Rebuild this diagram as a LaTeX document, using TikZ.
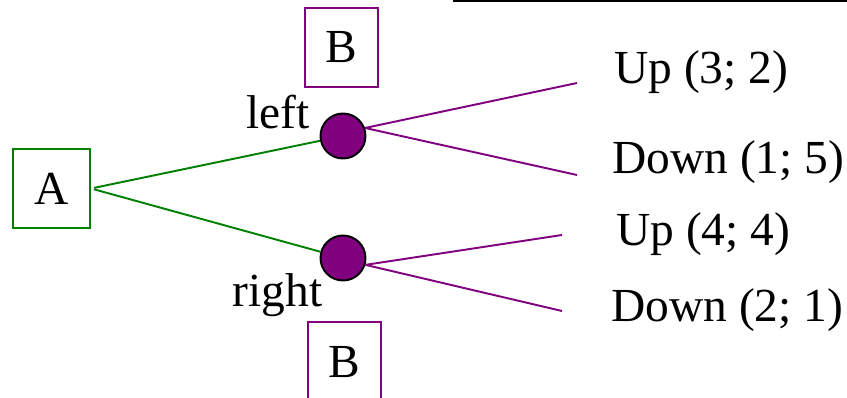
\documentclass[tikz,border=0pt]{standalone}
\usepackage{fontspec}
\setmainfont{Liberation Serif}
\usepackage{tikz}
\definecolor{gamegreen}{RGB}{0,128,0}
\definecolor{gamepurple}{RGB}{128,0,128}

\begin{document}
\begin{tikzpicture}[
    x=0.02cm, y=-0.02cm,
    every node/.style={font=\fontsize{27}{32}\selectfont, inner sep=0pt},
    player/.style={draw, line width=1.2pt, minimum width=1.46cm, minimum height=1.58cm},
    choice/.style={circle, draw=black, fill=gamepurple, line width=1.1pt, minimum size=0.9cm},
    move/.style={line width=1.1pt},
    lbl/.style={anchor=base},
    pay/.style={anchor=base west}
]
\useasboundingbox (0,0) rectangle (847,398);
\clip (0,0) rectangle (847,398);

\draw[line width=1pt] (453,0.8) -- (847,0.8);

% players
\node[player, draw=gamegreen, minimum width=1.54cm] (A) at (51.5,188.5) {A};
\node[player, draw=gamepurple] (Btop) at (341.5,47.5) {B};
\node[player, draw=gamepurple, minimum height=1.62cm] (Bbot) at (344.5,362.5) {B};

% decision points of B
\node[choice] (left) at (343,136) {};
\node[choice] (right) at (343,258) {};

\draw[move, gamegreen, shorten <=0.06cm] (A.east) -- (left);
\draw[move, gamegreen, shorten <=0.06cm] (A.east) -- (right);

\node[lbl] (lleft) at (278,129) {left};
\node[lbl] (lright) at (277.5,306) {right};

% outcomes
\coordinate (u1) at (577,83);
\coordinate (d1) at (577,175);
\coordinate (u2) at (562,235);
\coordinate (d2) at (562,311);
\draw[move, gamepurple] (left.20) -- (u1);
\draw[move, gamepurple] (left.20) -- (d1);
\draw[move, gamepurple] (right.-17) -- (u2);
\draw[move, gamepurple] (right.-17) -- (d2);

\node[pay] (p1) at (614,84) {Up (3; 2)};
\node[pay] (p2) at (612,174) {Down (1; 5)};
\node[pay] (p3) at (616,245) {Up (4; 4)};
\node[pay] (p4) at (611,321) {Down (2; 1)};
\end{tikzpicture}
\end{document}
